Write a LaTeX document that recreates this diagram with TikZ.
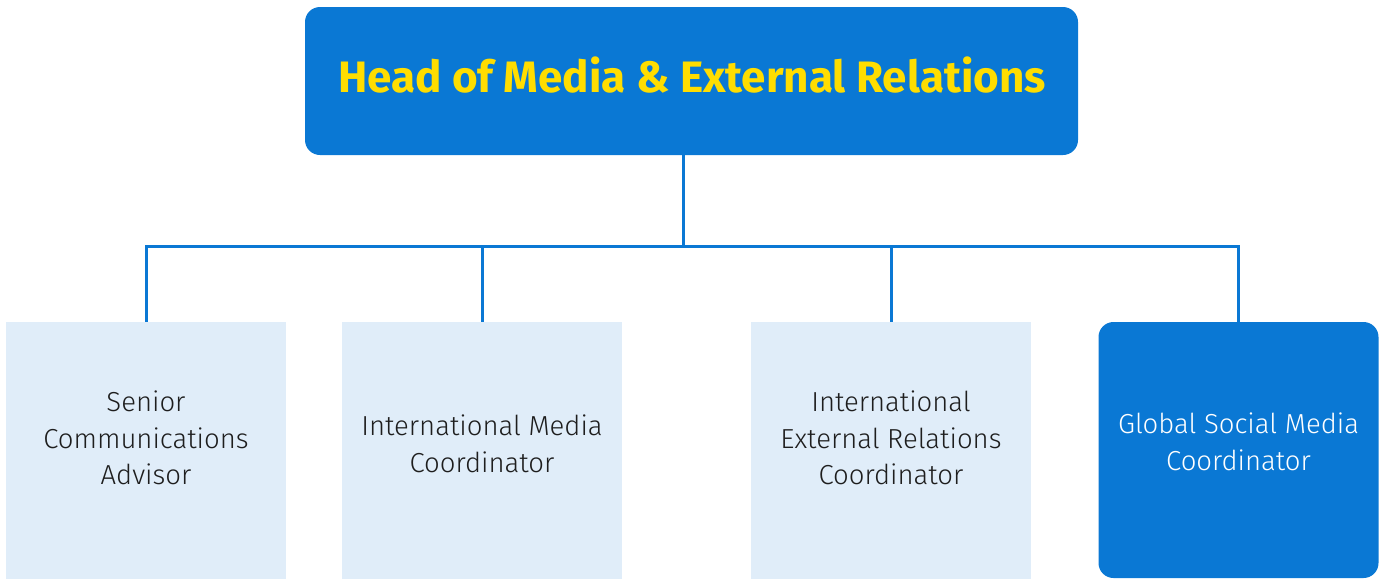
\documentclass[tikz,border=0pt]{standalone}
\usepackage{fontspec}
\setmainfont{Fira Sans}
\newfontfamily\lightfont{Fira Sans Light}
\definecolor{mblue}{HTML}{0A78D4}
\definecolor{mlight}{HTML}{E0EDF9}
\definecolor{myellow}{HTML}{FFDD00}
\definecolor{mtext}{HTML}{1E1E1E}
\begin{document}
\begin{tikzpicture}[x=1pt,y=-1pt,
  box/.style={rectangle,minimum width=280pt,minimum height=257pt,inner sep=0pt,fill=mlight,draw=none},
  lbl/.style={align=center,text=mtext,font=\lightfont\fontsize{27.5}{36.5}\selectfont},
  conn/.style={draw=mblue,line width=3pt}]
\useasboundingbox (0,0) rectangle (1386,579);
\node[rectangle,rounded corners=15pt,fill=mblue,minimum width=773pt,minimum height=148pt,inner sep=0pt] (top) at (691.5,81) {};
\node[anchor=base,inner sep=0pt,text=myellow,font=\fontsize{44}{50}\selectfont\bfseries] (title) at (692,92) {Head of Media \& External Relations};
\node[box] (b1) at (146,450.5) {};
\node[box] (b2) at (482,450.5) {};
\node[box] (b3) at (891,450.5) {};
\node[box,fill=mblue,rounded corners=15pt,minimum height=256pt] (b4) at (1238.5,450) {};
\node[lbl] (t1) at (146,438) {Senior\\Communications\\Advisor};
\node[lbl] (t2) at (482,444) {International Media\\Coordinator};
\node[lbl] (t3) at (891,438) {International\\External Relations\\Coordinator};
\node[lbl,text=white] (t4) at (1238.5,442) {Global Social Media\\Coordinator};
\coordinate (j) at (683,246);
\draw[conn] (top.south -| j) -- (j);
\draw[conn] (b1.north) |- (b4.north |- j) -- (b4.north);
\draw[conn] (b2.north) -- (b2.north |- j);
\draw[conn] (b3.north) -- (b3.north |- j);
\end{tikzpicture}
\end{document}
